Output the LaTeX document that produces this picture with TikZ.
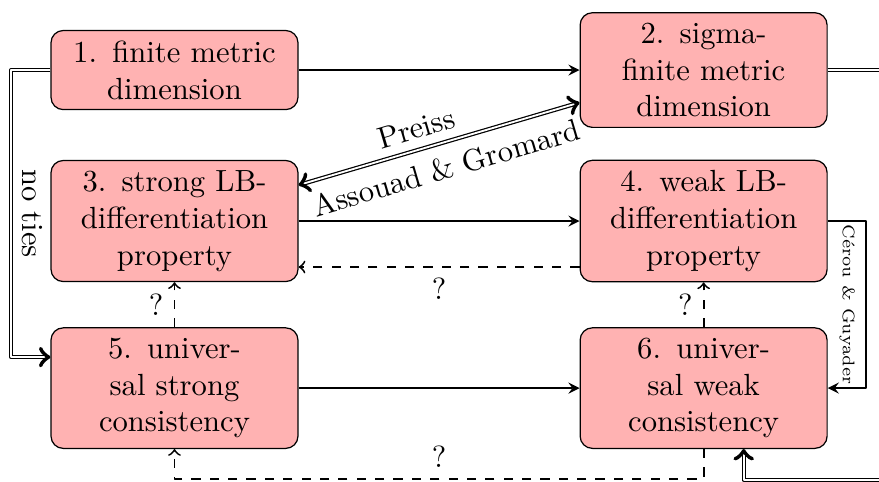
\documentclass[tikz,border=0pt]{standalone}
\begin{document}
\begin{tikzpicture}[line join=round,
		prop/.style={draw, fill=red!30, rounded corners, text width=74pt, align=center},
		imp/.style={semithick, -stealth},
		open/.style={semithick, dashed, ->},
		dbl/.style={double}]
	\useasboundingbox (0,0) rectangle (10.09,-5.53);
	\clip (0,0) rectangle (10.09,-5.53);
	\node[prop] (fmd) at (2.003,-0.804) {1. finite metric\\dimension};
	\node[prop] (sfmd) at (8.077,-0.804) {2. sigma-\\finite metric\\dimension};
	\node[prop] (slb) at (2.003,-2.537) {3. strong LB-\\differentiation\\property};
	\node[prop] (wlb) at (8.077,-2.537) {4. weak LB-\\differentiation\\property};
	\node[prop] (usc) at (2.003,-4.455) {5. univer-\\sal strong\\consistency};
	\node[prop] (uwc) at (8.077,-4.455) {6. univer-\\sal weak\\consistency};
	% horizontal implications
	\draw[imp] (fmd) -- (sfmd);
	\draw[imp] (slb) -- (wlb);
	\draw[imp] (usc) -- (uwc);
	\draw[open] ([yshift=-0.528cm]wlb.west) -- node[below] {?} ([yshift=-0.528cm]slb.east);
	% vertical ones
	\draw[open] (usc) -- node[left] {?} (slb);
	\draw[open] (uwc) -- node[left] {?} (wlb);
	\draw[open] (uwc.south) -- ++(0,-0.34) -| node[pos=0.25, above] {?} (usc.south);
	\draw[imp] (wlb.east) -- ++(0.44,0) |- node[pos=0.25, rotate=-90, anchor=north, font=\fontsize{5.5}{6.5}\selectfont] {C\'erou \& Guyader} (uwc.east);
	% double lines
	\draw[dbl, <->] ([yshift=0.413cm]slb.east) -- node[pos=0.44, sloped, above] {Preiss} node[pos=0.5, sloped, below=1pt] {Assouad \& Gromard} ([yshift=-0.373cm]sfmd.west);
	\draw[dbl, ->] (fmd.west) -- ++(-0.45,0) |- node[pos=0.25, rotate=-90, anchor=south] {no ties} ([yshift=0.356cm]usc.west);
	\coordinate (off) at (10.6,-5.51);
	\draw[dbl, ->] (sfmd.east) -| (off) -| ([xshift=0.46cm]uwc.south);
\end{tikzpicture}
\end{document}
